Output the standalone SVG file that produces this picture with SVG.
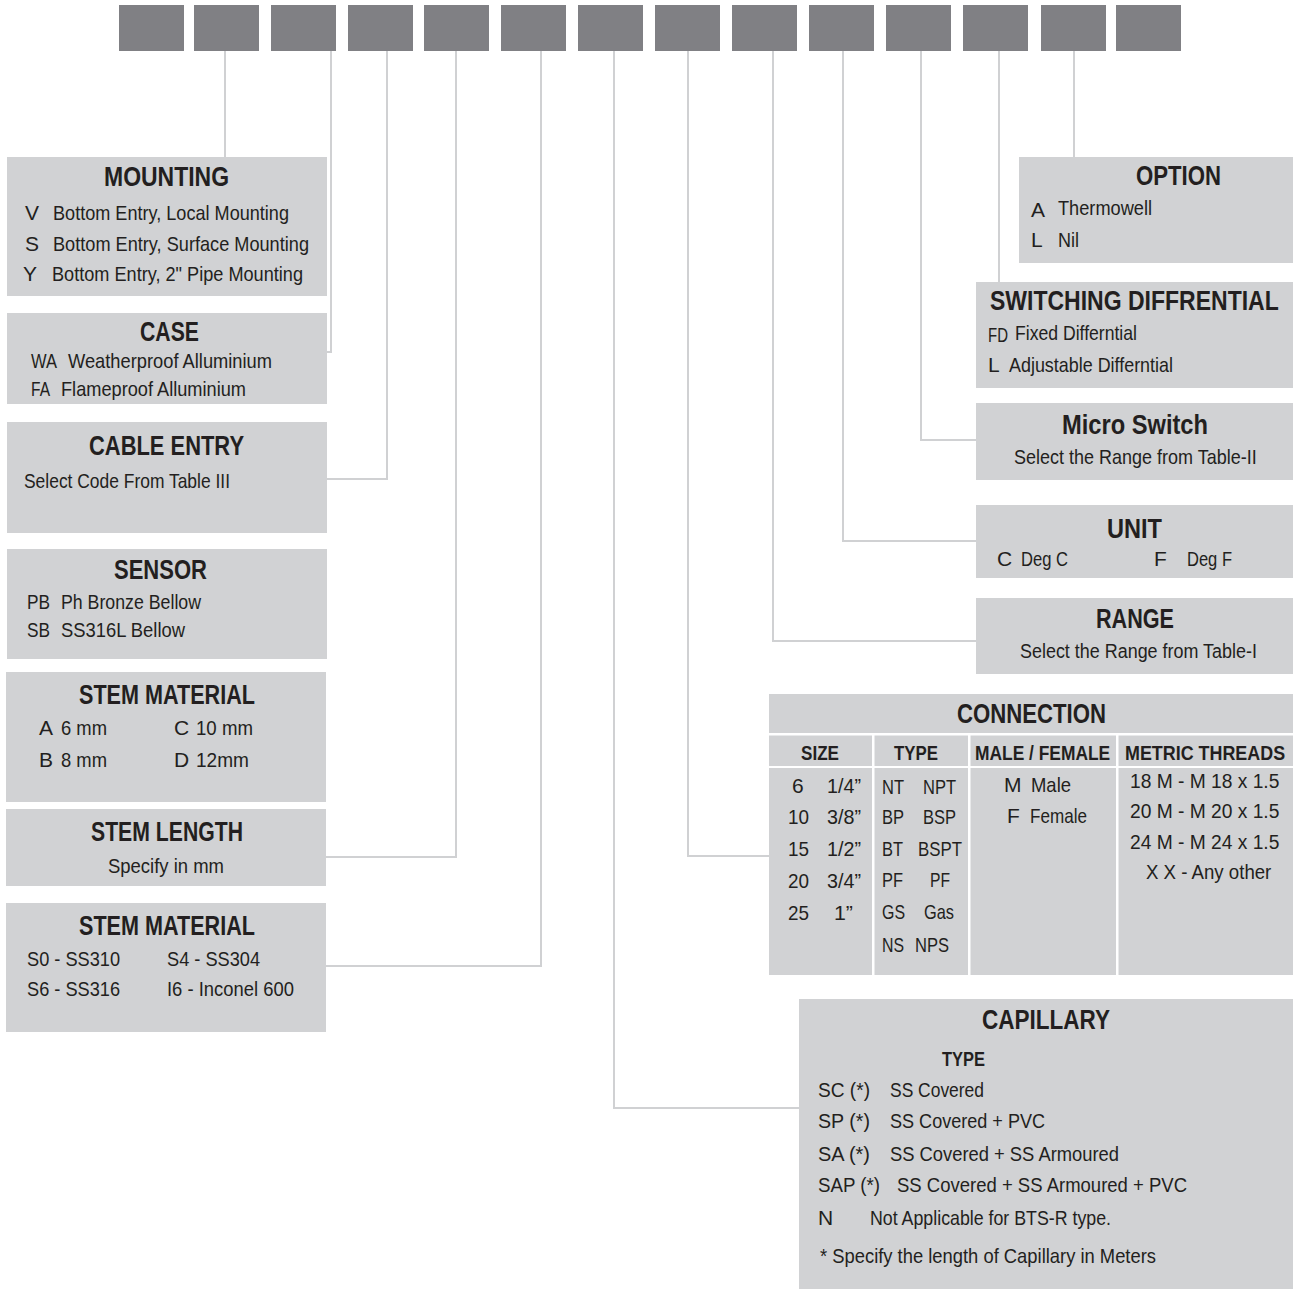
<svg xmlns="http://www.w3.org/2000/svg" width="1293" height="1289" viewBox="0 0 1293 1289">
<style>
.bg{fill:#ffffff}
.k{fill:#808084}
.p{fill:#d1d2d4}
.w{fill:#ffffff}
.c{fill:none;stroke:#d0d1d3;stroke-width:2}
text{font-family:"Liberation Sans Narrow","Liberation Sans",Arial,sans-serif;fill:#231f20}
.t{font-weight:bold;font-size:27px}
.h{font-weight:bold;font-size:21px}
.s{font-size:21px}
</style>
<rect class="bg" x="0" y="0" width="1293" height="1289"/>
<g id="code-boxes">
<rect class="k" x="119" y="5" width="65" height="46"/>
<rect class="k" x="194" y="5" width="65" height="46"/>
<rect class="k" x="271" y="5" width="65" height="46"/>
<rect class="k" x="348" y="5" width="65" height="46"/>
<rect class="k" x="424" y="5" width="65" height="46"/>
<rect class="k" x="501" y="5" width="65" height="46"/>
<rect class="k" x="578" y="5" width="65" height="46"/>
<rect class="k" x="655" y="5" width="65" height="46"/>
<rect class="k" x="732" y="5" width="65" height="46"/>
<rect class="k" x="809" y="5" width="65" height="46"/>
<rect class="k" x="886" y="5" width="65" height="46"/>
<rect class="k" x="963" y="5" width="65" height="46"/>
<rect class="k" x="1041" y="5" width="65" height="46"/>
<rect class="k" x="1116" y="5" width="65" height="46"/>
</g>
<g id="connectors">
<path class="c" d="M225 51V157"/>
<path class="c" d="M331 51V352H327"/>
<path class="c" d="M387 51V479H327"/>
<path class="c" d="M456 51V857H326"/>
<path class="c" d="M541 51V966H326"/>
<path class="c" d="M614 51V1108H799"/>
<path class="c" d="M688 51V856H769"/>
<path class="c" d="M773 51V641H976"/>
<path class="c" d="M843 51V541H976"/>
<path class="c" d="M921 51V440H976"/>
<path class="c" d="M999 51V282"/>
<path class="c" d="M1074 51V157"/>
</g>
<g id="mounting">
<rect class="p" x="7" y="157" width="320" height="139"/>
<text class="t" x="104" y="186" textLength="125" lengthAdjust="spacingAndGlyphs">MOUNTING</text>
<text class="s" x="25" y="220">V</text>
<text class="s" x="53" y="220" textLength="236" lengthAdjust="spacingAndGlyphs">Bottom Entry, Local Mounting</text>
<text class="s" x="25" y="251">S</text>
<text class="s" x="53" y="251" textLength="256" lengthAdjust="spacingAndGlyphs">Bottom Entry, Surface Mounting</text>
<text class="s" x="23" y="281">Y</text>
<text class="s" x="52" y="281" textLength="251" lengthAdjust="spacingAndGlyphs">Bottom Entry, 2" Pipe Mounting</text>
</g>
<g id="case">
<rect class="p" x="7" y="313" width="320" height="91"/>
<text class="t" x="140" y="341" textLength="59" lengthAdjust="spacingAndGlyphs">CASE</text>
<text class="s" x="31" y="368" textLength="26" lengthAdjust="spacingAndGlyphs">WA</text>
<text class="s" x="68" y="368" textLength="204" lengthAdjust="spacingAndGlyphs">Weatherproof Alluminium</text>
<text class="s" x="31" y="396" textLength="19" lengthAdjust="spacingAndGlyphs">FA</text>
<text class="s" x="61" y="396" textLength="185" lengthAdjust="spacingAndGlyphs">Flameproof Alluminium</text>
</g>
<g id="cable-entry">
<rect class="p" x="7" y="422" width="320" height="111"/>
<text class="t" x="89" y="455" textLength="155" lengthAdjust="spacingAndGlyphs">CABLE ENTRY</text>
<text class="s" x="24" y="488" textLength="206" lengthAdjust="spacingAndGlyphs">Select Code From Table III</text>
</g>
<g id="sensor">
<rect class="p" x="7" y="549" width="320" height="110"/>
<text class="t" x="114" y="579" textLength="93" lengthAdjust="spacingAndGlyphs">SENSOR</text>
<text class="s" x="27" y="609" textLength="23" lengthAdjust="spacingAndGlyphs">PB</text>
<text class="s" x="61" y="609" textLength="140" lengthAdjust="spacingAndGlyphs">Ph Bronze Bellow</text>
<text class="s" x="27" y="637" textLength="23" lengthAdjust="spacingAndGlyphs">SB</text>
<text class="s" x="61" y="637" textLength="124" lengthAdjust="spacingAndGlyphs">SS316L Bellow</text>
</g>
<g id="stem-material-1">
<rect class="p" x="6" y="672" width="320" height="130"/>
<text class="t" x="79" y="704" textLength="176" lengthAdjust="spacingAndGlyphs">STEM MATERIAL</text>
<text class="s" x="39" y="735">A</text>
<text class="s" x="61" y="735" textLength="46" lengthAdjust="spacingAndGlyphs">6 mm</text>
<text class="s" x="174" y="735">C</text>
<text class="s" x="196" y="735" textLength="57" lengthAdjust="spacingAndGlyphs">10 mm</text>
<text class="s" x="39" y="767">B</text>
<text class="s" x="61" y="767" textLength="46" lengthAdjust="spacingAndGlyphs">8 mm</text>
<text class="s" x="174" y="767">D</text>
<text class="s" x="196" y="767" textLength="53" lengthAdjust="spacingAndGlyphs">12mm</text>
</g>
<g id="stem-length">
<rect class="p" x="6" y="809" width="320" height="77"/>
<text class="t" x="91" y="841" textLength="152" lengthAdjust="spacingAndGlyphs">STEM LENGTH</text>
<text class="s" x="108" y="873" textLength="116" lengthAdjust="spacingAndGlyphs">Specify in mm</text>
</g>
<g id="stem-material-2">
<rect class="p" x="6" y="903" width="320" height="129"/>
<text class="t" x="79" y="935" textLength="176" lengthAdjust="spacingAndGlyphs">STEM MATERIAL</text>
<text class="s" x="27" y="966" textLength="93" lengthAdjust="spacingAndGlyphs">S0 - SS310</text>
<text class="s" x="167" y="966" textLength="93" lengthAdjust="spacingAndGlyphs">S4 - SS304</text>
<text class="s" x="27" y="996" textLength="93" lengthAdjust="spacingAndGlyphs">S6 - SS316</text>
<text class="s" x="167" y="996" textLength="127" lengthAdjust="spacingAndGlyphs">I6 - Inconel 600</text>
</g>
<g id="option">
<rect class="p" x="1019" y="157" width="274" height="106"/>
<text class="t" x="1136" y="185" textLength="85" lengthAdjust="spacingAndGlyphs">OPTION</text>
<text class="s" x="1031" y="217">A</text>
<text class="s" x="1058" y="215" textLength="94" lengthAdjust="spacingAndGlyphs">Thermowell</text>
<text class="s" x="1031" y="247">L</text>
<text class="s" x="1058" y="247" textLength="21" lengthAdjust="spacingAndGlyphs">Nil</text>
</g>
<g id="switching-differential">
<rect class="p" x="976" y="282" width="317" height="106"/>
<text class="t" transform="translate(990 310) scale(0.852 1)">SWITCHING DIFFRENTIAL</text>
<text class="s" x="988" y="342" textLength="20" lengthAdjust="spacingAndGlyphs">FD</text>
<text class="s" x="1015" y="340" textLength="122" lengthAdjust="spacingAndGlyphs">Fixed Differntial</text>
<text class="s" x="988" y="372">L</text>
<text class="s" x="1009" y="372" textLength="164" lengthAdjust="spacingAndGlyphs">Adjustable Differntial</text>
</g>
<g id="micro-switch">
<rect class="p" x="976" y="403" width="317" height="77"/>
<text class="t" x="1062" y="434" textLength="146" lengthAdjust="spacingAndGlyphs">Micro Switch</text>
<text class="s" transform="translate(1014 464) scale(0.857 1)">Select the Range from Table-II</text>
</g>
<g id="unit">
<rect class="p" x="976" y="505" width="317" height="73"/>
<text class="t" x="1107" y="538" textLength="55" lengthAdjust="spacingAndGlyphs">UNIT</text>
<text class="s" x="997" y="566">C</text>
<text class="s" x="1021" y="566" textLength="47" lengthAdjust="spacingAndGlyphs">Deg C</text>
<text class="s" x="1154" y="566">F</text>
<text class="s" x="1187" y="566" textLength="45" lengthAdjust="spacingAndGlyphs">Deg F</text>
</g>
<g id="range">
<rect class="p" x="976" y="598" width="317" height="76"/>
<text class="t" x="1096" y="628" textLength="78" lengthAdjust="spacingAndGlyphs">RANGE</text>
<text class="s" transform="translate(1020 658) scale(0.855 1)">Select the Range from Table-I</text>
</g>
<g id="connection">
<rect class="p" x="769" y="694" width="524" height="281"/>
<rect class="w" x="769" y="733" width="524" height="2.5"/>
<rect class="w" x="769" y="766" width="524" height="2"/>
<rect class="w" x="872" y="735" width="2.5" height="240"/>
<rect class="w" x="968" y="735" width="2.5" height="240"/>
<rect class="w" x="1116" y="735" width="2.5" height="240"/>
<text class="t" x="957" y="723" textLength="149" lengthAdjust="spacingAndGlyphs">CONNECTION</text>
<text class="h" x="801" y="760" textLength="38" lengthAdjust="spacingAndGlyphs">SIZE</text>
<text class="h" x="894" y="760" textLength="44" lengthAdjust="spacingAndGlyphs">TYPE</text>
<text class="h" transform="translate(975 760) scale(0.828 1)">MALE / FEMALE</text>
<text class="h" transform="translate(1125 760) scale(0.853 1)">METRIC THREADS</text>
<text class="s" x="792" y="793">6</text>
<text class="s" x="827" y="793" textLength="34" lengthAdjust="spacingAndGlyphs">1/4”</text>
<text class="s" x="788" y="824" textLength="21" lengthAdjust="spacingAndGlyphs">10</text>
<text class="s" x="827" y="824" textLength="34" lengthAdjust="spacingAndGlyphs">3/8”</text>
<text class="s" x="788" y="856" textLength="21" lengthAdjust="spacingAndGlyphs">15</text>
<text class="s" x="827" y="856" textLength="34" lengthAdjust="spacingAndGlyphs">1/2”</text>
<text class="s" x="788" y="888" textLength="21" lengthAdjust="spacingAndGlyphs">20</text>
<text class="s" x="827" y="888" textLength="34" lengthAdjust="spacingAndGlyphs">3/4”</text>
<text class="s" x="788" y="920" textLength="21" lengthAdjust="spacingAndGlyphs">25</text>
<text class="s" x="834" y="920" textLength="19" lengthAdjust="spacingAndGlyphs">1”</text>
<text class="s" x="882" y="794" textLength="22" lengthAdjust="spacingAndGlyphs">NT</text>
<text class="s" x="923" y="794" textLength="33" lengthAdjust="spacingAndGlyphs">NPT</text>
<text class="s" x="882" y="824" textLength="22" lengthAdjust="spacingAndGlyphs">BP</text>
<text class="s" x="923" y="824" textLength="33" lengthAdjust="spacingAndGlyphs">BSP</text>
<text class="s" x="882" y="856" textLength="21" lengthAdjust="spacingAndGlyphs">BT</text>
<text class="s" x="918" y="856" textLength="44" lengthAdjust="spacingAndGlyphs">BSPT</text>
<text class="s" x="882" y="887" textLength="21" lengthAdjust="spacingAndGlyphs">PF</text>
<text class="s" x="930" y="887" textLength="20" lengthAdjust="spacingAndGlyphs">PF</text>
<text class="s" x="882" y="919" textLength="23" lengthAdjust="spacingAndGlyphs">GS</text>
<text class="s" x="924" y="919" textLength="30" lengthAdjust="spacingAndGlyphs">Gas</text>
<text class="s" x="882" y="952" textLength="22" lengthAdjust="spacingAndGlyphs">NS</text>
<text class="s" x="915" y="952" textLength="34" lengthAdjust="spacingAndGlyphs">NPS</text>
<text class="s" x="1004" y="792">M</text>
<text class="s" x="1031" y="792" textLength="40" lengthAdjust="spacingAndGlyphs">Male</text>
<text class="s" x="1007" y="823">F</text>
<text class="s" x="1030" y="823" textLength="57" lengthAdjust="spacingAndGlyphs">Female</text>
<text class="s" transform="translate(1130 788) scale(0.915 1)">18 M - M 18 x 1.5</text>
<text class="s" transform="translate(1130 818) scale(0.915 1)">20 M - M 20 x 1.5</text>
<text class="s" transform="translate(1130 849) scale(0.915 1)">24 M - M 24 x 1.5</text>
<text class="s" transform="translate(1146 879) scale(0.888 1)">X X - Any other</text>
</g>
<g id="capillary">
<rect class="p" x="799" y="999" width="494" height="290"/>
<text class="t" x="982" y="1029" textLength="128" lengthAdjust="spacingAndGlyphs">CAPILLARY</text>
<text class="h" x="942" y="1066" textLength="43" lengthAdjust="spacingAndGlyphs">TYPE</text>
<text class="s" x="818" y="1097" textLength="52" lengthAdjust="spacingAndGlyphs">SC (*)</text>
<text class="s" x="890" y="1097" textLength="94" lengthAdjust="spacingAndGlyphs">SS Covered</text>
<text class="s" x="818" y="1128" textLength="52" lengthAdjust="spacingAndGlyphs">SP (*)</text>
<text class="s" x="890" y="1128" textLength="155" lengthAdjust="spacingAndGlyphs">SS Covered + PVC</text>
<text class="s" x="818" y="1161" textLength="52" lengthAdjust="spacingAndGlyphs">SA (*)</text>
<text class="s" x="890" y="1161" textLength="229" lengthAdjust="spacingAndGlyphs">SS Covered + SS Armoured</text>
<text class="s" x="818" y="1192" textLength="62" lengthAdjust="spacingAndGlyphs">SAP (*)</text>
<text class="s" x="897" y="1192" textLength="290" lengthAdjust="spacingAndGlyphs">SS Covered + SS Armoured + PVC</text>
<text class="s" x="818" y="1225">N</text>
<text class="s" x="870" y="1225" textLength="241" lengthAdjust="spacingAndGlyphs">Not Applicable for BTS-R type.</text>
<text class="s" x="820" y="1263" textLength="336" lengthAdjust="spacingAndGlyphs">* Specify the length of Capillary in Meters</text>
</g>
</svg>
